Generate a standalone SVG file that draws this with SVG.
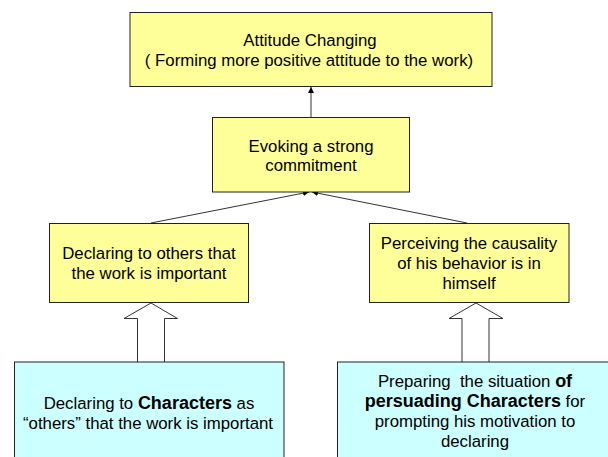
<svg xmlns="http://www.w3.org/2000/svg" width="608" height="457" viewBox="0 0 608 457">
<defs>
<style>
.y{fill:#FFFF99;stroke:#222;stroke-width:1}
.c{fill:#CCFFFF;stroke:#222;stroke-width:1}
.t{font-family:"Liberation Sans",Arial,sans-serif;font-size:16.8px;fill:#000;text-anchor:middle}
.b{font-weight:bold;font-size:18px}
.ln{stroke:#333;stroke-width:1;fill:none}
.ba{fill:#fff;stroke:#333;stroke-width:1}
</style>
<marker id="ah" viewBox="0 0 10 10" refX="10" refY="5" markerWidth="6" markerHeight="6" orient="auto" markerUnits="userSpaceOnUse">
<path d="M0,0 L10,5 L0,10 z" fill="#000"/>
</marker>
</defs>
<g id="connectors">
<line class="ln" x1="311" y1="117" x2="311" y2="87" marker-end="url(#ah)"/>
<line class="ln" x1="151" y1="223" x2="309" y2="192" marker-end="url(#ah)"/>
<line class="ln" x1="467" y1="223" x2="312" y2="192" marker-end="url(#ah)"/>
<path class="ba" d="M137.5,362 L137.5,318.5 L124,318.5 L151,303 L177.5,318.5 L164.5,318.5 L164.5,362"/>
<path class="ba" d="M462,362 L462,318.5 L449,318.5 L476,303 L503,318.5 L489,318.5 L489,362"/>
</g>
<g id="attitude">
<rect class="y" x="130" y="12.5" width="362" height="74"/>
<text class="t" x="310" y="46">Attitude Changing</text>
<text class="t" x="309" y="65.5">( Forming more positive attitude to the work)</text>
</g>
<g id="commitment">
<rect class="y" x="212.5" y="117.5" width="197" height="74.5"/>
<text class="t" x="311" y="151.5">Evoking a strong</text>
<text class="t" x="311" y="171">commitment</text>
</g>
<g id="declaring">
<rect class="y" x="49.5" y="223.5" width="199" height="79"/>
<text class="t" x="149" y="259">Declaring to others that</text>
<text class="t" x="149" y="279">the work is important</text>
</g>
<g id="perceiving">
<rect class="y" x="369.5" y="223.5" width="199.5" height="79"/>
<text class="t" x="469" y="249">Perceiving the causality</text>
<text class="t" x="469" y="269">of his behavior is in</text>
<text class="t" x="469" y="289">himself</text>
</g>
<g id="declaringChars">
<rect class="c" x="14.5" y="362" width="269.5" height="100"/>
<text class="t" x="149" y="409">Declaring to <tspan class="b">Characters</tspan> as</text>
<text class="t" x="148" y="429">“others” that the work is important</text>
</g>
<g id="preparing">
<rect class="c" x="337.5" y="362" width="275" height="100"/>
<text class="t" x="475" y="387" xml:space="preserve">Preparing  the situation <tspan class="b">of</tspan></text>
<text class="t" x="475" y="407"><tspan class="b">persuading Characters</tspan> for</text>
<text class="t" x="475" y="427">prompting his motivation to</text>
<text class="t" x="475" y="447">declaring</text>
</g>
</svg>
